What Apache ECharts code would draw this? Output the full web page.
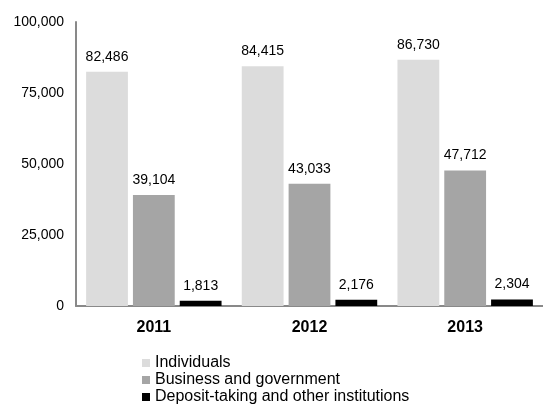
<!DOCTYPE html>
<html>
<head>
<meta charset="utf-8">
<script src="https://cdn.jsdelivr.net/npm/echarts@6/dist/echarts.min.js"></script>
<style>
  html, body { margin: 0; padding: 0; background: #fff; overflow: hidden; }
  #chart { width: 543px; height: 407px; }
</style>
</head>
<body>
<div id="chart"></div>
<script>
// Yearly totals by holder type
var years = ['2011', '2012', '2013'];
var individuals = [82486, 84415, 86730];
var business = [39104, 43033, 47712];
var depositTaking = [1813, 2176, 2304];
var seriesNames = ['Individuals', 'Business and government', 'Deposit-taking and other institutions'];
var yTicks = [0, 25000, 50000, 75000, 100000];

var FONT = 'Liberation Sans, Arial, sans-serif';

function fmt(v) {
  return v.toLocaleString('en-US');
}

function makeSeries(name, data, color) {
  return {
    name: name,
    type: 'bar',
    data: data,
    barGap: '12%',
    barCategoryGap: '13%',
    itemStyle: { color: color },
    label: {
      show: true,
      position: 'top',
      distance: 8,
      color: '#000',
      fontFamily: FONT,
      fontSize: 14,
      formatter: function (p) { return fmt(p.value); }
    }
  };
}

var chart = echarts.init(document.getElementById('chart'), null, { renderer: 'canvas' });
chart.setOption({
  animation: false,
  backgroundColor: '#fff',
  grid: { left: 76, right: -3, top: 22, bottom: 101, containLabel: false },
  legend: {
    orient: 'vertical',
    left: 142,
    top: 355,
    height: 80,
    padding: 0,
    itemWidth: 8,
    itemHeight: 8,
    itemGap: 1,
    icon: 'rect',
    textStyle: { fontFamily: FONT, fontSize: 16, color: '#000' },
    data: seriesNames
  },
  xAxis: {
    type: 'category',
    data: years,
    axisLine: { lineStyle: { color: '#898989', width: 2 } },
    axisTick: { show: false },
    axisLabel: { fontFamily: FONT, fontSize: 16, fontWeight: 'bold', color: '#000', margin: 14 }
  },
  yAxis: {
    type: 'value',
    min: yTicks[0],
    max: yTicks[yTicks.length - 1],
    interval: 25000,
    axisLine: { show: true, lineStyle: { color: '#898989', width: 2 } },
    axisTick: { show: false },
    splitLine: { show: false },
    axisLabel: {
      fontFamily: FONT, fontSize: 14, color: '#000', margin: 12,
      formatter: function (v) { return fmt(v); }
    }
  },
  series: [
    makeSeries(seriesNames[0], individuals, '#dcdcdc'),
    makeSeries(seriesNames[1], business, '#a5a5a5'),
    makeSeries(seriesNames[2], depositTaking, '#000000')
  ]
});
</script>
</body>
</html>
